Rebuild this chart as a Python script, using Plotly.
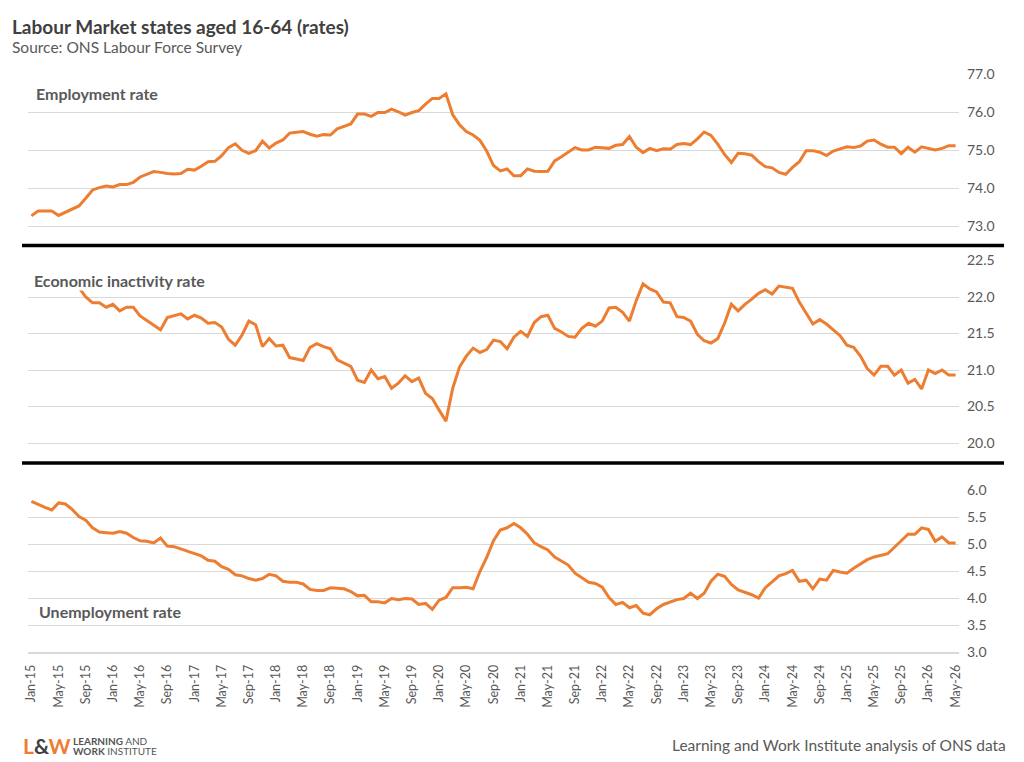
import plotly.graph_objects as go

# ---------------- data ----------------
month_names = ["Jan", "Feb", "Mar", "Apr", "May", "Jun",
               "Jul", "Aug", "Sep", "Oct", "Nov", "Dec"]
start_year = 15
n_months = 137
months = [f"{month_names[i % 12]}-{start_year + i // 12}" for i in range(n_months)]
tick_labels = months[::4]

employment_rate = [
    73.28, 73.41, 73.41, 73.41, 73.29, 73.37, 73.45, 73.54, 73.74, 73.96,
    74.02, 74.06, 74.04, 74.10, 74.10, 74.16, 74.30, 74.38, 74.44, 74.42,
    74.39, 74.38, 74.39, 74.50, 74.48, 74.58, 74.70, 74.71, 74.86, 75.07,
    75.17, 75.00, 74.92, 74.99, 75.24, 75.06, 75.19, 75.27, 75.45, 75.47,
    75.49, 75.42, 75.37, 75.41, 75.40, 75.56, 75.62, 75.69, 75.95, 75.95,
    75.89, 75.99, 75.99, 76.08, 76.01, 75.92, 75.99, 76.04, 76.21, 76.36,
    76.36, 76.48, 75.93, 75.67, 75.49, 75.40, 75.26, 74.98, 74.60, 74.46,
    74.51, 74.33, 74.33, 74.51, 74.45, 74.44, 74.45, 74.72, 74.83, 74.94,
    75.07, 75.01, 75.01, 75.08, 75.06, 75.05, 75.13, 75.15, 75.36, 75.08,
    74.94, 75.05, 74.99, 75.04, 75.03, 75.15, 75.18, 75.15, 75.30, 75.48,
    75.39, 75.16, 74.89, 74.68, 74.92, 74.91, 74.87, 74.70, 74.57, 74.54,
    74.42, 74.37, 74.55, 74.70, 74.99, 74.99, 74.95, 74.86, 74.98, 75.04,
    75.09, 75.07, 75.11, 75.24, 75.27, 75.16, 75.08, 75.08, 74.91, 75.08,
    74.95, 75.09, 75.04, 75.01, 75.05, 75.12, 75.12,
]

inactivity_rate = [
    22.30, 22.33, 22.28, 22.31, 22.36, 22.30, 22.22, 22.13, 22.00, 21.92,
    21.92, 21.86, 21.90, 21.81, 21.86, 21.86, 21.74, 21.68, 21.62, 21.55,
    21.72, 21.75, 21.77, 21.70, 21.75, 21.71, 21.64, 21.65, 21.59, 21.42,
    21.34, 21.48, 21.67, 21.62, 21.32, 21.43, 21.33, 21.34, 21.17, 21.15,
    21.13, 21.31, 21.36, 21.32, 21.29, 21.14, 21.10, 21.05, 20.86, 20.83,
    21.00, 20.88, 20.91, 20.75, 20.82, 20.92, 20.84, 20.89, 20.68, 20.61,
    20.45, 20.30, 20.75, 21.04, 21.19, 21.30, 21.24, 21.28, 21.41, 21.39,
    21.29, 21.45, 21.53, 21.46, 21.65, 21.73, 21.75, 21.57, 21.52, 21.46,
    21.45, 21.57, 21.64, 21.60, 21.67, 21.85, 21.86, 21.79, 21.67, 21.95,
    22.18, 22.11, 22.07, 21.93, 21.92, 21.73, 21.72, 21.67, 21.49, 21.40,
    21.37, 21.43, 21.64, 21.90, 21.81, 21.90, 21.97, 22.05, 22.10, 22.04,
    22.15, 22.14, 22.12, 21.93, 21.78, 21.63, 21.69, 21.63, 21.55, 21.47,
    21.34, 21.31, 21.19, 21.02, 20.93, 21.05, 21.05, 20.93, 21.00, 20.82,
    20.87, 20.74, 21.00, 20.95, 21.00, 20.93, 20.93,
]

unemployment_rate = [
    5.79, 5.73, 5.68, 5.63, 5.76, 5.74, 5.64, 5.51, 5.44, 5.30,
    5.22, 5.21, 5.20, 5.23, 5.20, 5.12, 5.06, 5.05, 5.02, 5.11,
    4.96, 4.95, 4.91, 4.86, 4.83, 4.78, 4.70, 4.68, 4.58, 4.53,
    4.43, 4.41, 4.36, 4.33, 4.36, 4.44, 4.41, 4.31, 4.29, 4.29,
    4.26, 4.16, 4.14, 4.14, 4.19, 4.18, 4.17, 4.12, 4.04, 4.05,
    3.93, 3.93, 3.91, 3.99, 3.97, 3.99, 3.98, 3.88, 3.90, 3.79,
    3.96, 4.01, 4.19, 4.19, 4.20, 4.17, 4.49, 4.75, 5.06, 5.26,
    5.30, 5.38, 5.30, 5.18, 5.02, 4.95, 4.89, 4.76, 4.68, 4.61,
    4.46, 4.38, 4.29, 4.27, 4.20, 4.01, 3.88, 3.92, 3.82, 3.86,
    3.72, 3.69, 3.80, 3.88, 3.92, 3.97, 3.99, 4.09, 3.99, 4.09,
    4.31, 4.44, 4.40, 4.25, 4.15, 4.11, 4.06, 4.00, 4.19, 4.30,
    4.41, 4.45, 4.51, 4.31, 4.33, 4.17, 4.35, 4.33, 4.51, 4.48,
    4.46, 4.55, 4.63, 4.71, 4.76, 4.79, 4.82, 4.94, 5.07, 5.18,
    5.18, 5.30, 5.27, 5.05, 5.13, 5.02, 5.02,
]

# ---------------- layout helpers ----------------
# the page body adds an 8px margin, so the figure is 1016x754 placed at (8, 8)
OFF = 8
W, H = 1024 - OFF, 762 - OFF
def px_x(x):
    return (x - OFF) / W
def px_y(y):
    return 1 - (y - OFF) / H

ORANGE = "#ED7D31"
GRID = "#d9d9d9"
TXT = "#595959"
FONT = "Lato"

fig = go.Figure()
fig.add_trace(go.Scatter(x=months, y=employment_rate, mode="lines",
                         line=dict(color=ORANGE, width=3), yaxis="y",
                         hoverinfo="x+y", showlegend=False))
fig.add_trace(go.Scatter(x=months, y=inactivity_rate, mode="lines",
                         line=dict(color=ORANGE, width=3), yaxis="y2",
                         hoverinfo="x+y", showlegend=False))
fig.add_trace(go.Scatter(x=months, y=unemployment_rate, mode="lines",
                         line=dict(color=ORANGE, width=3), yaxis="y3",
                         hoverinfo="x+y", showlegend=False))

yax_common = dict(side="right", showgrid=True, gridcolor=GRID, gridwidth=1.3,
                  zeroline=False, showline=False, ticks="", tickformat=".1f",
                  tickfont=dict(family=FONT, size=14, color=TXT),
                  ticklabelstandoff=7, anchor="x", automargin=False,
                  fixedrange=True)

fig.update_layout(
    template="none",
    width=W, height=H,
    margin=dict(l=0, r=0, t=0, b=0, pad=0, autoexpand=False),
    paper_bgcolor="white", plot_bgcolor="white",
    font=dict(family=FONT, color=TXT),
    showlegend=False,
    xaxis=dict(domain=[px_x(28), px_x(959)], anchor="y3", type="category",
               range=[-0.5, n_months - 0.5],
               tickmode="array", tickvals=tick_labels, ticktext=tick_labels,
               tickangle=-90, tickfont=dict(family=FONT, size=12.5, color=TXT),
               ticklabelstandoff=6,
               showgrid=False, zeroline=False, showline=True,
               linecolor=GRID, linewidth=1.5, ticks="", automargin=False,
               fixedrange=True),
    yaxis=dict(domain=[px_y(245.6), px_y(74)], range=[72.5, 77.0],
               tick0=73, dtick=1, **yax_common),
    yaxis2=dict(domain=[px_y(463), px_y(260.5)], range=[19.726, 22.5],
                tick0=20, dtick=0.5, **yax_common),
    yaxis3=dict(domain=[px_y(652), px_y(490)], range=[3.0, 6.0],
                tick0=3, dtick=0.5, **yax_common),
)

shapes = []
# black separators between panels
for yy in (245.5, 463):
    shapes.append(dict(type="line", xref="paper", yref="paper",
                       x0=px_x(22), x1=px_x(1004), y0=px_y(yy), y1=px_y(yy),
                       line=dict(color="black", width=3.5), layer="above"))
# white label box of the inactivity panel (covers the line like the original)
shapes.append(dict(type="rect", xref="paper", yref="paper",
                   x0=px_x(20), x1=px_x(212), y0=px_y(290.5), y1=px_y(263),
                   fillcolor="white", line=dict(width=0), layer="above"))
fig.update_layout(shapes=shapes)

logo_text = (f"<b><span style='color:{ORANGE}'>L</span>"
             f"<span style='color:#404040'>&amp;</span>"
             f"<span style='color:{ORANGE}'>W</span></b>")

annotations = [
    dict(text="<b>Labour Market states aged 16-64 (rates)</b>",
         x=px_x(10), y=px_y(27), font=dict(family=FONT, size=19, color="#404040")),
    dict(text="Source: ONS Labour Force Survey",
         x=px_x(10), y=px_y(47), font=dict(family=FONT, size=15.5, color=TXT)),
    dict(text="<b>Employment rate</b>",
         x=px_x(34), y=px_y(94), font=dict(family=FONT, size=16, color=TXT)),
    dict(text="<b>Economic inactivity rate</b>",
         x=px_x(32), y=px_y(280), font=dict(family=FONT, size=16, color=TXT)),
    dict(text="<b>Unemployment rate</b>",
         x=px_x(37), y=px_y(611), font=dict(family=FONT, size=16, color=TXT)),
    dict(text=logo_text, x=px_x(21), y=px_y(745),
         font=dict(family=FONT, size=21, color=ORANGE)),
    dict(text="<b>LEARNING</b> AND",
         x=px_x(71), y=px_y(741), font=dict(family=FONT, size=10, color="#555555")),
    dict(text="<b>WORK</b> INSTITUTE",
         x=px_x(71), y=px_y(751), font=dict(family=FONT, size=10, color="#555555")),
    dict(text="Learning and Work Institute analysis of ONS data",
         x=px_x(1008), y=px_y(745), xanchor="right",
         font=dict(family=FONT, size=15.5, color=TXT)),
]
for a in annotations:
    a.setdefault("xanchor", "left")
    a.update(xref="paper", yref="paper", yanchor="middle", showarrow=False)
fig.update_layout(annotations=annotations)

fig.write_html("out.html")
